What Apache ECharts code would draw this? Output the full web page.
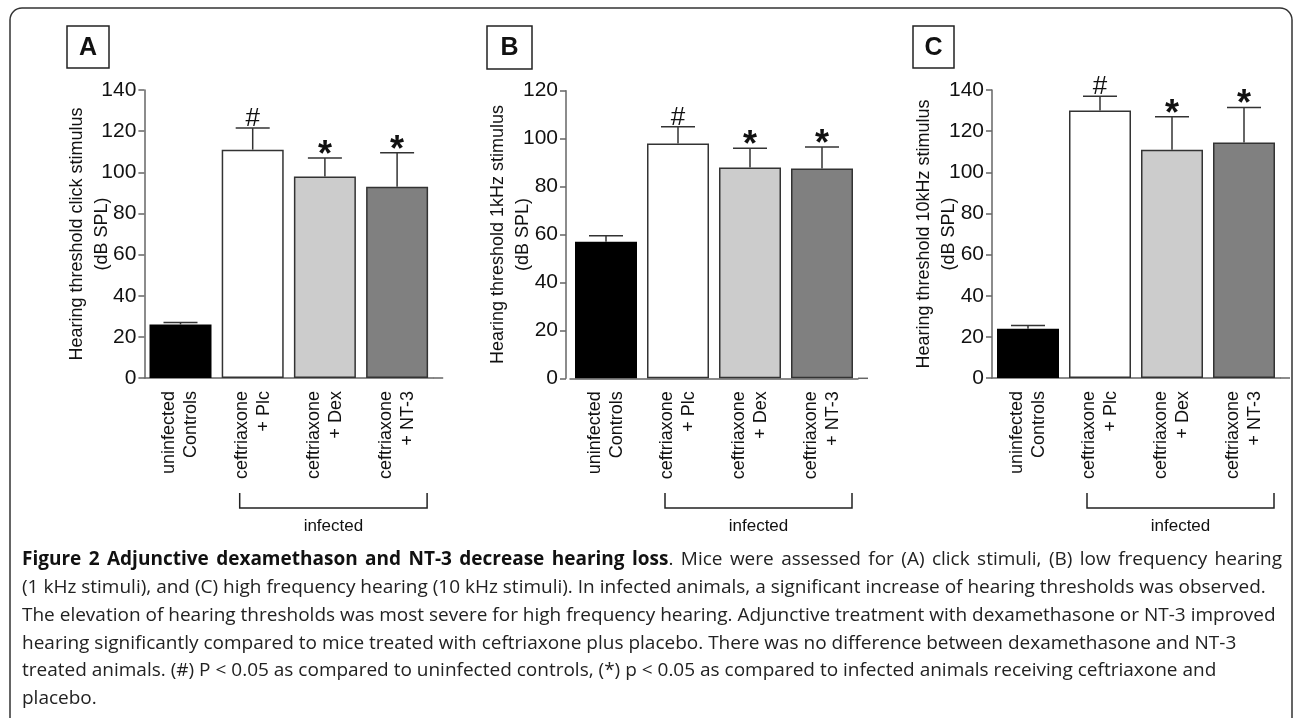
<!DOCTYPE html>
<html>
<head>
<meta charset="utf-8">
<script src="https://cdn.jsdelivr.net/npm/echarts@6/dist/echarts.min.js"></script>
<style>
html,body{margin:0;padding:0;background:#fff;}
#c{width:1293px;height:718px;}
</style>
</head>
<body>
<div id="c"></div>
<script>
// ---- data ----
var categories = ['uninfected\nControls', 'ceftriaxone\n+ Plc', 'ceftriaxone\n+ Dex', 'ceftriaxone\n+ NT-3'];
var clickMean = [26, 111, 98, 93];
var clickErr  = [1, 10.5, 9, 16.5];
var khz1Mean  = [57, 98, 88, 87.5];
var khz1Err   = [2.5, 7, 8, 9];
var khz10Mean = [24, 130, 111, 114.5];
var khz10Err  = [1.5, 7, 16, 17];
var signif    = ['', '#', '*', '*'];
var panelLetters = ['A', 'B', 'C'];
var yNames = ['Hearing threshold click stimulus\n(dB SPL)', 'Hearing threshold 1kHz stimulus\n(dB SPL)', 'Hearing threshold 10kHz stimulus\n(dB SPL)'];
var yMax = [140, 120, 140];
var groupLabel = 'infected';
var captionBold = 'Figure 2 Adjunctive dexamethason and NT-3 decrease hearing loss';
var captionLines = [
  '. Mice were assessed for (A) click stimuli, (B) low frequency hearing',
  '(1 kHz stimuli), and (C) high frequency hearing (10 kHz stimuli). In infected animals, a significant increase of hearing thresholds was observed.',
  'The elevation of hearing thresholds was most severe for high frequency hearing. Adjunctive treatment with dexamethasone or NT-3 improved',
  'hearing significantly compared to mice treated with ceftriaxone plus placebo. There was no difference between dexamethasone and NT-3',
  'treated animals. (#) P < 0.05 as compared to uninfected controls, (*) p < 0.05 as compared to infected animals receiving ceftriaxone and',
  'placebo.'
];

// ---- layout / style ----
var FONT = '"Liberation Sans", Arial, Helvetica, sans-serif';
var CAPFONT = '"Open Sans", sans-serif';
var CAPSIZE = 19;
var barColors = ['#000000', '#ffffff', '#cccccc', '#808080'];
var axisColor = '#666';
var grids = [
  {left: 144.4, top: 90, width: 288.8, height: 288, yOffset: 0},
  {left: 570, top: 90.7, width: 288, height: 287.6, yOffset: 4},
  {left: 992, top: 90, width: 288, height: 288, yOffset: 0}
];
var boxes = [
  {x: 67, y: 26, w: 42, h: 42},
  {x: 487, y: 26, w: 45, h: 43},
  {x: 913, y: 26, w: 41, h: 42}
];
var means = [clickMean, khz1Mean, khz10Mean];
var errs = [clickErr, khz1Err, khz10Err];

var chart = echarts.init(document.getElementById('c'), null, {renderer: 'canvas'});

var gridOpt = [], xAxes = [], yAxes = [], series = [];
for (var p = 0; p < 3; p++) {
  var g = grids[p];
  gridOpt.push({left: g.left, top: g.top, width: g.width, height: g.height, containLabel: false});
  xAxes.push({
    type: 'category', gridIndex: p, data: categories, boundaryGap: true,
    axisLine: {show: true, lineStyle: {color: axisColor, width: 1.5}},
    axisTick: {show: false},
    axisLabel: {rotate: 90, margin: 13, fontFamily: FONT, fontSize: 18, color: '#111', lineHeight: 22, interval: 0},
    splitLine: {show: false}
  });
  yAxes.push({
    type: 'value', gridIndex: p, min: 0, max: yMax[p], interval: 20, offset: g.yOffset,
    name: yNames[p], nameLocation: 'middle', nameRotate: 90, nameGap: 30, nameMoveOverlap: false,
    nameTextStyle: {fontFamily: FONT, fontSize: 18, color: '#111', lineHeight: 25, align: 'center'},
    axisLine: {show: true, lineStyle: {color: axisColor, width: 1.5}},
    axisTick: {show: true, length: 6, lineStyle: {color: axisColor, width: 1.5}},
    axisLabel: {fontFamily: FONT, fontSize: 21, color: '#111', margin: 8},
    splitLine: {show: false}
  });
  var barData = means[p].map(function (v, i) {
    return {value: v, itemStyle: {color: barColors[i], borderColor: i === 0 ? '#000' : '#333', borderWidth: 1.5}};
  });
  series.push({
    type: 'bar', xAxisIndex: p, yAxisIndex: p, data: barData, barWidth: 62, z: 2,
    animation: false
  });
  var errData = means[p].map(function (v, i) { return [i, v, v + errs[p][i]]; });
  series.push({
    type: 'custom', xAxisIndex: p, yAxisIndex: p, data: errData, z: 3, animation: false,
    renderItem: function (params, api) {
      var i = api.value(0);
      var base = api.coord([i, api.value(1)]);
      var top = api.coord([i, api.value(2)]);
      var half = 17;
      var children = [
        {type: 'line', shape: {x1: base[0], y1: base[1], x2: top[0], y2: top[1]}, style: {stroke: '#333', lineWidth: 1.5}},
        {type: 'line', shape: {x1: top[0] - half, y1: top[1], x2: top[0] + half, y2: top[1]}, style: {stroke: '#333', lineWidth: 1.5}}
      ];
      var s = signif[i];
      if (s === '#') {
        children.push({type: 'text', x: top[0], y: top[1] + 4, style: {text: '#', fontFamily: FONT, fontSize: 26, fill: '#111', align: 'center', verticalAlign: 'bottom'}});
      } else if (s === '*') {
        children.push({type: 'text', x: top[0], y: top[1] + 16, style: {text: '*', fontFamily: FONT, fontWeight: 'bold', fontSize: 36, fill: '#111', align: 'center', verticalAlign: 'bottom'}});
      }
      return {type: 'group', children: children};
    }
  });
}

// decorations
var graphic = [];
graphic.push({type: 'rect', shape: {x: 10, y: 8, width: 1282, height: 800, r: 12}, style: {fill: 'none', stroke: '#333', lineWidth: 1.5}, z: 0});
for (var p2 = 0; p2 < 3; p2++) {
  var b = boxes[p2];
  graphic.push({type: 'rect', shape: {x: b.x, y: b.y, width: b.w, height: b.h}, style: {fill: '#fff', stroke: '#222', lineWidth: 1.5}});
  graphic.push({type: 'text', x: b.x + b.w / 2, y: b.y + b.h / 2 + 1, style: {text: panelLetters[p2], fontFamily: FONT, fontWeight: 'bold', fontSize: 25, fill: '#111', align: 'center', verticalAlign: 'middle'}});
  var g2 = grids[p2];
  graphic.push({type: 'line', shape: {x1: g2.left + g2.width, y1: g2.top + g2.height, x2: g2.left + g2.width + 10, y2: g2.top + g2.height}, style: {stroke: axisColor, lineWidth: 1.5}});
}

// caption: first line justified word by word
var capX0 = 22, capX1 = 1282, capY0 = 560, capDY = 27.7;
var mctx = document.createElement('canvas').getContext('2d');
function measure(txt, bold) {
  mctx.font = (bold ? 'bold ' : '') + CAPSIZE + 'px ' + CAPFONT;
  return mctx.measureText(txt).width;
}
var tokens = [];
var bw = captionBold.split(' ');
for (var t = 0; t < bw.length; t++) tokens.push([{t: bw[t], b: true}]);
var rest = captionLines[0];
tokens[tokens.length - 1].push({t: rest.charAt(0), b: false});
var rw = rest.slice(1).trim().split(' ');
for (var t2 = 0; t2 < rw.length; t2++) tokens.push([{t: rw[t2], b: false}]);
var widths = tokens.map(function (tk) { return tk.reduce(function (s, seg) { return s + measure(seg.t, seg.b); }, 0); });
var totalW = widths.reduce(function (a, c) { return a + c; }, 0);
var gap = (capX1 - capX0 - totalW) / (tokens.length - 1);
var cx = capX0;
var richStyle = {b: {fontFamily: CAPFONT, fontWeight: 'bold', fontSize: CAPSIZE, fill: '#111'},
                 n: {fontFamily: CAPFONT, fontSize: CAPSIZE, fill: '#222'}};
for (var t3 = 0; t3 < tokens.length; t3++) {
  var txt = tokens[t3].map(function (seg) { return '{' + (seg.b ? 'b' : 'n') + '|' + seg.t + '}'; }).join('');
  graphic.push({type: 'text', x: cx, y: capY0, style: {text: txt, rich: richStyle, verticalAlign: 'middle'}});
  cx += widths[t3] + gap;
}
for (var k = 1; k < captionLines.length; k++) {
  graphic.push({type: 'text', x: capX0, y: capY0 + capDY * k, style: {text: captionLines[k], fontFamily: CAPFONT, fontSize: CAPSIZE, fill: '#222', verticalAlign: 'middle'}});
}

chart.setOption({
  backgroundColor: '#fff',
  animation: false,
  grid: gridOpt,
  xAxis: xAxes,
  yAxis: yAxes,
  series: series,
  graphic: graphic
});

// brackets under the infected groups (positions from the category axis)
var extra = [];
for (var q = 0; q < 3; q++) {
  var pL = chart.convertToPixel({xAxisIndex: q, yAxisIndex: q}, [1, 0]);
  var pR = chart.convertToPixel({xAxisIndex: q, yAxisIndex: q}, [3, 0]);
  var xl = pL[0] - 13, xr = pR[0] + 30;
  extra.push({type: 'polyline', shape: {points: [[xl, 493], [xl, 508], [xr, 508], [xr, 493]]}, style: {fill: 'none', stroke: '#222', lineWidth: 1.5}});
  extra.push({type: 'text', x: (xl + xr) / 2, y: 526, style: {text: groupLabel, fontFamily: FONT, fontSize: 17, fill: '#111', align: 'center', verticalAlign: 'middle'}});
}
chart.setOption({graphic: graphic.concat(extra)});
</script>
</body>
</html>
